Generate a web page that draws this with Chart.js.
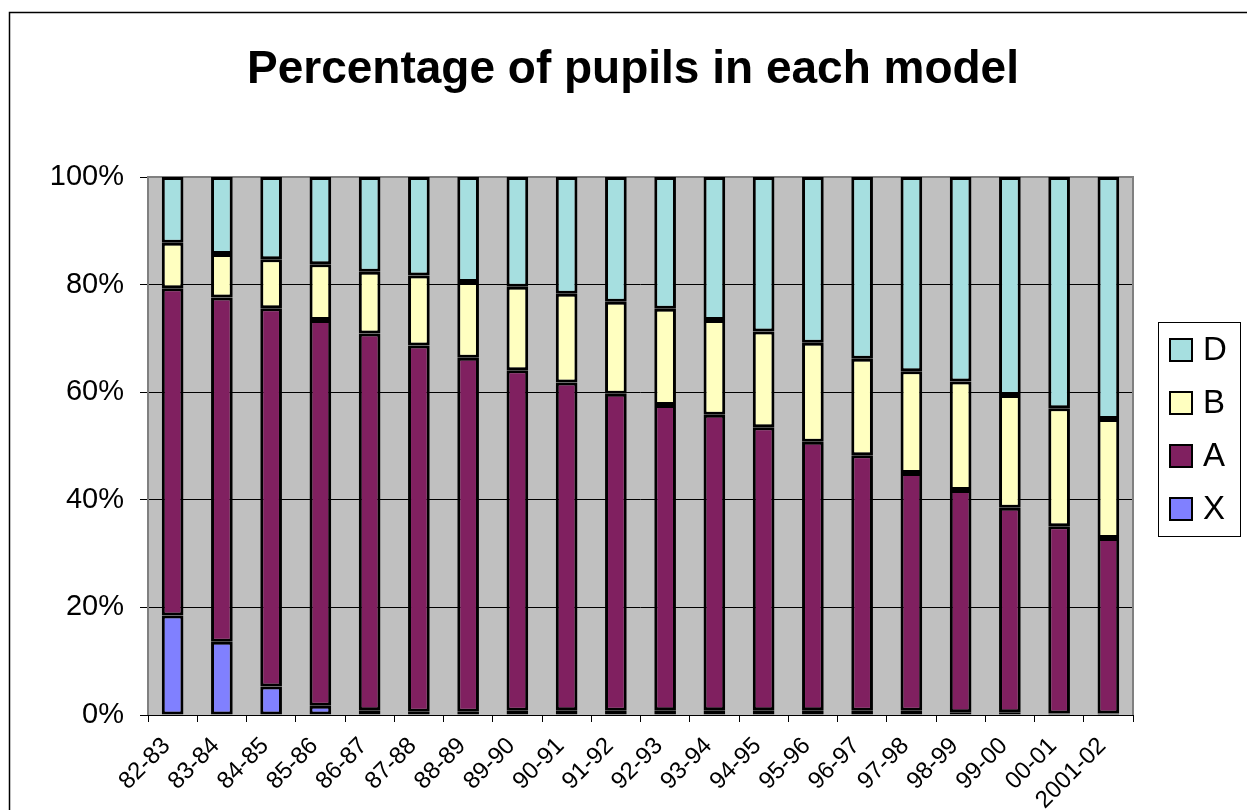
<!DOCTYPE html>
<html>
<head>
<meta charset="utf-8">
<script src="https://cdn.jsdelivr.net/npm/chart.js@4"></script>
<style>
  body { margin: 0; background: #fff; }
  #wrap { width: 1247px; height: 810px; }
</style>
</head>
<body>
<div id="wrap"><canvas id="pupilsChart" width="1247" height="810"></canvas></div>
<script>
// school years
let years = ["82-83", "83-84", "84-85", "85-86", "86-87", "87-88", "88-89", "89-90", "90-91", "91-92",
    "92-93", "93-94", "94-95", "95-96", "96-97", "97-98", "98-99", "99-00", "00-01", "2001-02"]

// share of pupils per model (%)
let modelX = [18.5, 13.6, 5.3, 1.7, 0.9, 0.6, 0.6, 0.8, 0.9, 0.8, 0.9, 0.9, 0.9, 0.9, 0.8, 0.8, 0.5, 0.5, 0.3, 0.3]
let modelA = [60.8, 64.0, 70.3, 71.7, 70.0, 68.1, 65.8, 63.3, 60.9, 58.9, 56.7, 54.9, 52.6, 49.9, 47.5, 44.2, 41.3, 38.0, 34.8, 32.6]
let modelB = [8.5, 8.1, 9.1, 10.4, 11.5, 13.0, 14.1, 15.5, 16.5, 17.1, 17.9, 17.6, 17.8, 18.4, 17.9, 18.9, 20.2, 21.0, 21.9, 22.1]
let modelD = [12.2, 14.3, 15.3, 16.2, 17.6, 18.3, 19.5, 20.4, 21.7, 23.2, 24.5, 26.6, 28.7, 30.8, 33.8, 36.1, 38.0, 40.5, 43.0, 45.0]

let yTicks = [0, 20, 40, 60, 80, 100]

let chartTitle = 'Percentage of pupils in each model'

let font = "Arial, 'Liberation Sans', sans-serif"

function bar(label, data, color) {
    return {
        label: label,
        data: data,
        backgroundColor: color,
        borderColor: '#000',
        borderWidth: 3,
        borderSkipped: false,
        barPercentage: 0.44,
        categoryPercentage: 1
    }
}

// grey plot area, outer frame
let background = {
    id: 'background',
    beforeDraw(chart) {
        let c = chart.ctx
        let a = chart.chartArea
        c.save()
        c.strokeStyle = '#000'
        c.lineWidth = 1.5
        c.strokeRect(9.5, 12.5, chart.width + 20, chart.height + 20)
        c.fillStyle = '#c0c0c0'
        c.fillRect(a.left, a.top, a.right - a.left, a.bottom - a.top)
        c.restore()
    },
    beforeDatasetsDraw(chart) {
        let c = chart.ctx
        let a = chart.chartArea
        c.save()
        c.strokeStyle = '#808080'
        c.lineWidth = 2
        c.beginPath()
        c.moveTo(a.left, a.bottom)
        c.lineTo(a.left, a.top)
        c.lineTo(a.right, a.top)
        c.lineTo(a.right, a.bottom)
        c.stroke()
        c.restore()
    }
}

// title centred on the whole frame, and the boxed legend (D, B, A, X)
let titleAndLegend = {
    id: 'titleAndLegend',
    afterDraw(chart) {
        let c = chart.ctx
        c.save()
        c.fillStyle = '#000'
        c.font = "bold 46px " + font
        c.textAlign = 'center'
        c.textBaseline = 'alphabetic'
        c.fillText(chartTitle, 633, 83)

        c.textAlign = 'left'
        c.strokeStyle = '#000'
        c.lineWidth = 1
        c.strokeRect(1158.5, 322.5, 82, 214)
        c.font = "33px " + font
        c.textBaseline = 'middle'
        let sets = chart.data.datasets.slice().reverse()
        sets.forEach(function (ds, i) {
            let y = 339 + i * 53
            c.fillStyle = ds.backgroundColor
            c.fillRect(1170, y, 22, 22)
            c.lineWidth = 2
            c.strokeRect(1170, y, 22, 22)
            c.fillStyle = '#000'
            c.fillText(ds.label, 1203, y + 12)
        })
        c.restore()
    }
}

let ctx = document.getElementById('pupilsChart').getContext('2d')
let chart = new Chart(ctx, {
    type: 'bar',
    data: {
        labels: years,
        datasets: [
            bar('X', modelX, '#8080ff'),
            bar('A', modelA, '#802060'),
            bar('B', modelB, '#ffffc0'),
            bar('D', modelD, '#a6dfe0')
        ]
    },
    options: {
        responsive: false,
        animation: false,
        layout: { padding: { left: 0, right: 114, top: 177, bottom: 0 } },
        plugins: {
            legend: { display: false },
            tooltip: { enabled: false },
            title: { display: false }
        },
        scales: {
            x: {
                stacked: true,
                grid: { drawOnChartArea: false, drawTicks: true, tickLength: 7, color: '#000' },
                border: { display: true, color: '#000', width: 1 },
                ticks: {
                    color: '#000',
                    font: { family: font, size: 24 },
                    minRotation: 45,
                    maxRotation: 45,
                    autoSkip: false,
                    padding: 10,
                    labelOffset: -6
                },
                afterFit(scale) { scale.height = 95 }
            },
            y: {
                stacked: true,
                min: 0,
                max: 100,
                afterBuildTicks(scale) { scale.ticks = yTicks.map(v => ({ value: v })) },
                grid: { color: '#000', lineWidth: 1, tickLength: 8, tickColor: '#000' },
                border: { display: false },
                ticks: {
                    color: '#000',
                    font: { family: font, size: 29 },
                    padding: 16,
                    callback: v => v + '%'
                },
                afterFit(scale) { scale.width = 148 }
            }
        }
    },
    plugins: [background, titleAndLegend]
})
</script>
</body>
</html>
